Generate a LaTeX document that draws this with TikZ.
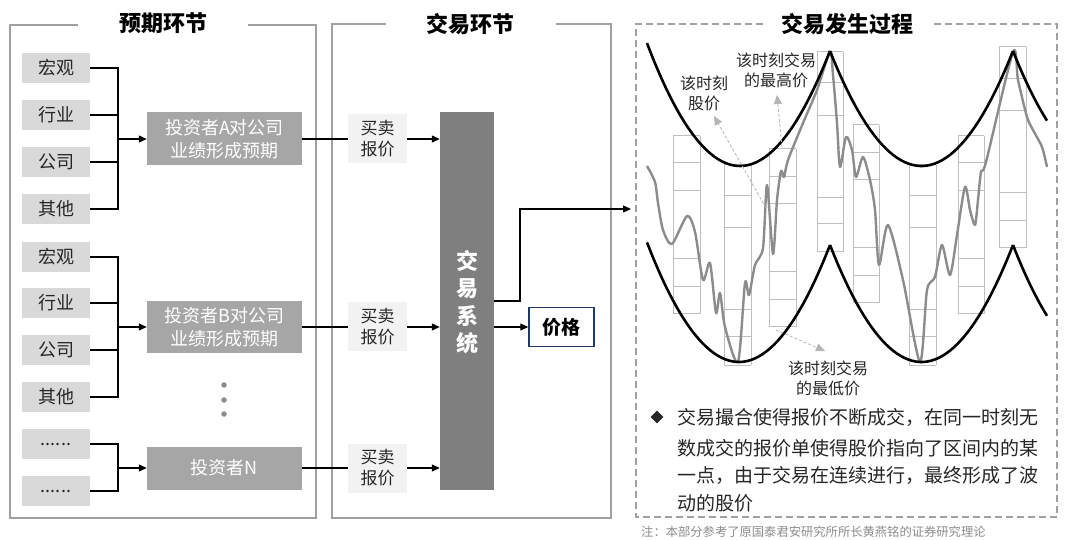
\documentclass[tikz,border=0pt]{standalone}
\usepackage{fontspec}
\setmainfont{Noto Sans CJK SC}
\usetikzlibrary{arrows.meta}
\definecolor{factorfill}{HTML}{D9D9D9}
\definecolor{invfill}{HTML}{A6A6A6}
\definecolor{quotefill}{HTML}{F2F2F2}
\definecolor{sysfill}{HTML}{7F7F7F}
\definecolor{navy}{HTML}{1F3864}
\definecolor{framegray}{HTML}{A0A0A0}
\definecolor{cellgray}{HTML}{BFBFBF}
\definecolor{pricegray}{HTML}{8C8C8C}
\definecolor{textdark}{HTML}{262626}
\definecolor{annogray}{HTML}{B4B4B4}
\begin{document}
\begin{tikzpicture}[x=1pt,y=-1pt,
  frame/.style={draw=framegray, line width=1.5pt},
  dframe/.style={draw=framegray, line width=1.5pt, dash pattern=on 7pt off 4pt},
  factor/.style={fill=factorfill, minimum width=68pt, minimum height=30pt, inner sep=0pt, font=\fontsize{18}{20}\selectfont, text=textdark},
  inv/.style={fill=invfill, minimum width=155pt, inner sep=0pt, text=white, align=center, font=\fontsize{18}{23}\selectfont},
  quotebox/.style={fill=quotefill, minimum width=59pt, minimum height=49pt, inner sep=0pt, align=center, font=\fontsize{17}{21}\selectfont, text=textdark},
  conn/.style={line width=1.2pt, draw=black},
  arr/.style={conn, -{Triangle[length=8pt,width=7pt]}},
  ptitle/.style={font=\fontsize{22}{24}\selectfont\bfseries, text=black},
  annot/.style={align=center, font=\fontsize{16}{20}\selectfont, text=textdark, inner sep=0pt},
  annarrow/.style={draw=annogray, line width=0.8pt, dash pattern=on 3pt off 2pt, -{Triangle[length=9pt,width=8pt,fill=annogray]}},
  cell/.style={draw=cellgray, line width=1pt},
  para/.style={draw=black, line width=2.6pt},
  priceline/.style={draw=pricegray, line width=2.4pt, line join=round},
  btext/.style={anchor=base west, inner sep=0pt, font=\fontsize{19}{22}\selectfont, text=textdark},
]
\useasboundingbox (0,0) rectangle (1080,540);
\fill[white] (0,0) rectangle (1080,540);

% ---------- panel 1 ----------
\draw[frame] (78,25) -- (10,25) -- (10,518) -- (316,518) -- (316,25) -- (248,25);
\node[ptitle] (t1) at (163,23) {预期环节};

\foreach \n/\y/\t in {f1/68/宏观, f2/115/行业, f3/162/公司, f4/209/其他,
                      f5/257/宏观, f6/303/行业, f7/350/公司, f8/397/其他}
  \node[factor] (\n) at (56,\y) {\t};
\node[factor] (f9) at (56,444) {......};
\node[factor] (f10) at (56,491) {......};

\node[inv, minimum height=53pt] (invA) at (224.5,139) {投资者A对公司\\业绩形成预期};
\node[inv, minimum height=52pt] (invB) at (224.5,327) {投资者B对公司\\业绩形成预期};
\node[inv, minimum height=43pt] (invN) at (224.5,468) {投资者N};

\coordinate (busA) at (118,139);
\coordinate (busB) at (118,327);
\coordinate (busN) at (118,468);
\foreach \f in {f1,f2,f3,f4} \draw[conn] (\f.east) -| (busA);
\foreach \f in {f5,f6,f7,f8} \draw[conn] (\f.east) -| (busB);
\draw[conn] (f9.east) -| (busN);
\draw[conn] (f10.east) -| (busN);
\draw[arr] (busA) -- (invA.west);
\draw[arr] (busB) -- (invB.west);
\draw[arr] (busN) -- (invN.west);

\node[circle, fill=pricegray, minimum size=5.5pt, inner sep=0pt] (d1) at (224,385) {};
\node[circle, fill=pricegray, minimum size=5.5pt, inner sep=0pt] (d2) at (224,400) {};
\node[circle, fill=pricegray, minimum size=5.5pt, inner sep=0pt] (d3) at (224,414) {};

% ---------- panel 2 ----------
\draw[frame] (386,24) -- (332,24) -- (332,518) -- (611,518) -- (611,24) -- (556,24);
\node[ptitle] (t2) at (470,24) {交易环节};

\node[quotebox] (qA) at (377.5,139) {买卖\\报价};
\node[quotebox] (qB) at (377.5,327) {买卖\\报价};
\node[quotebox] (qN) at (377.5,468) {买卖\\报价};
\draw[conn] (invA.east) -- (qA.west);
\draw[conn] (invB.east) -- (qB.west);
\draw[conn] (invN.east) -- (qN.west);

\node[fill=sysfill, minimum width=54pt, minimum height=378pt, inner sep=0pt] (sys) at (467,301) {};
\node[align=center, text=white, font=\fontsize{22}{27.5}\selectfont\bfseries, inner sep=0pt] (systxt) at (467,302) {交\\易\\系\\统};

\draw[arr] (qA.east) -- (qA.east -| sys.west);
\draw[arr] (qB.east) -- (qB.east -| sys.west);
\draw[arr] (qN.east) -- (qN.east -| sys.west);

\node[draw=navy, line width=1.5pt, fill=white, minimum width=65pt, minimum height=39pt, inner sep=0pt, font=\fontsize{19}{21}\selectfont\bfseries] (price) at (561.5,327) {价格};
\draw[arr] (sys.east |- price.west) -- (price.west);

\coordinate (bend) at (520,209);
\coordinate (outT) at (631,209);
\draw[arr] (sys.east) -| (bend) -- (outT);

% ---------- panel 3 ----------
\draw[dframe] (763,24) -- (636,24) -- (636,517) -- (1057,517) -- (1057,24) -- (930,24);
\node[ptitle] (t3) at (847,24) {交易发生过程};

% stacked quote columns
\foreach \xl/\xr/\ys in {
  673/700/{136,163,191,259,287,314},
  724/751/{165,196,228,310,337,365},
  769/796/{149,177,204,272,300,327},
  817/843/{52,83,116,198,224,252},
  853/879/{125,153,180,248,276,303},
  909/936/{165,196,228,310,337,365},
  958/984/{136,163,191,259,287,314},
  999/1026/{47,79,111,193,221,248}}{
  \foreach \y [count=\i] in \ys {
    \draw[cell] (\xl,\y) -- (\xr,\y);
    \ifnum\i=1 \xdef\ytop{\y}\fi
    \xdef\ybot{\y}
  }
  \draw[cell] (\xl,\ytop) -- (\xl,\ybot);
  \draw[cell] (\xr,\ytop) -- (\xr,\ybot);
}

% price path
\draw[priceline] plot[smooth, tension=0.45] coordinates {
 (647,166) (655,182) (658,203) (663,230) (672,244) (687,216) (695,232)
 (703,280) (710,263) (716,313) (720,293) (725,327) (738,362) (745,283)
 (749,295) (755,265) (763,248) (767,185) (773,254) (777,200) (781,171)
 (784,177) (788,160) (803,123) (817,90) (830,52) (833,75) (837,123)
 (840,167) (846,137) (852,150) (856,177) (863,157) (870,180) (875,210)
 (879,265) (888,225) (903,280) (920,362) (927,290) (935,277) (942,245)
 (950,275) (957,235) (965,187) (970,210) (975,225) (978,200) (981,172)
 (986,162) (1013,52) (1018,80) (1027,117) (1033,130) (1042,147) (1047,167)};

% upper envelope
\draw[para] plot[domain=647:830, samples=50] (\x, {166-0.0142*(\x-740)^2});
\draw[para] plot[domain=830:1013, samples=50] (\x, {166-0.01374*(\x-921.5)^2});
\draw[para] plot[domain=1013:1047, samples=15] (\x, {166-0.01374*(\x-1104.5)^2});
% lower envelope
\draw[para] plot[domain=647:830, samples=50] (\x, {362-0.01413*(\x-739)^2});
\draw[para] plot[domain=830:1013, samples=50] (\x, {362-0.013975*(\x-921.5)^2});
\draw[para] plot[domain=1013:1047, samples=15] (\x, {362-0.013975*(\x-1104.5)^2});

% annotations
\node[annot] (lblA) at (704,93) {该时刻\\股价};
\node[annot] (lblB) at (776,70) {该时刻交易\\的最高价};
\node[annot] (lblC) at (828,378) {该时刻交易\\的最低价};
\coordinate (tailA) at (766,208);
\coordinate (headA) at (714,116);
\coordinate (tailB) at (782,147);
\coordinate (headB) at (777,95);
\coordinate (tailC) at (776,330);
\coordinate (headC) at (825,351);
\draw[annarrow] (tailA) -- (headA);
\draw[annarrow] (tailB) -- (headB);
\draw[annarrow] (tailC) -- (headC);

% bullet text
\node[fill=textdark, rotate=45, minimum size=9pt, inner sep=0pt] (bul) at (657,417) {};
\node[btext] (bl1) at (677,424) {交易撮合使得报价不断成交，在同一时刻无};
\node[btext] (bl2) at (677,455) {数成交的报价单使得股价指向了区间内的某};
\node[btext] (bl3) at (677,482) {一点，由于交易在连续进行，最终形成了波};
\node[btext] (bl4) at (677,510) {动的股价};

\node[anchor=west, inner sep=0pt, font=\fontsize{12.3}{14}\selectfont, text=pricegray] (note) at (641,532)
 {注：本部分参考了原国泰君安研究所所长黄燕铭的证券研究理论};
\end{tikzpicture}
\end{document}
